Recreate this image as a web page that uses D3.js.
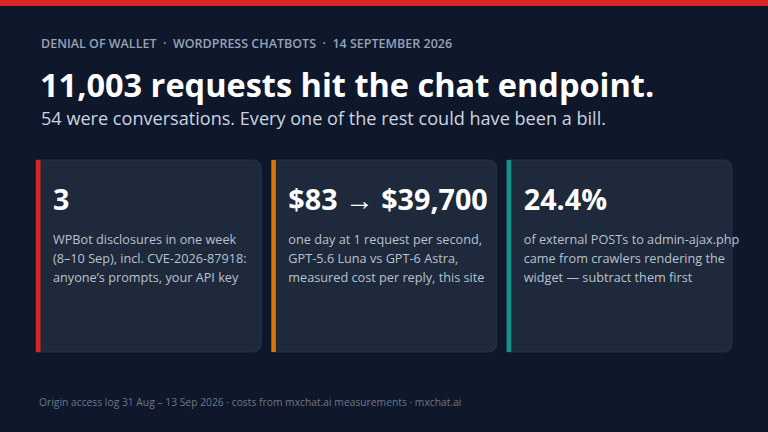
<!DOCTYPE html>
<html>
<head>
<meta charset="utf-8">
<script src="https://cdn.jsdelivr.net/npm/d3@7"></script>
<style>
  html, body { margin: 0; padding: 0; background: #0f172a; }
  svg { display: block; font-family: "Open Sans", "Noto Sans", sans-serif; }
</style>
</head>
<body>
<div id="chart"></div>
<script>
const kicker = 'DENIAL OF WALLET  ·  WORDPRESS CHATBOTS  ·  14 SEPTEMBER 2026';
const title = '11,003 requests hit the chat endpoint.';
const subtitle = '54 were conversations. Every one of the rest could have been a bill.';
const footer = 'Origin access log 31 Aug – 13 Sep 2026 · costs from mxchat.ai measurements · mxchat.ai';

const cardKeys = ['disclosures', 'cost', 'crawlers'];
const cardValues = ['3', '$83 → $39,700', '24.4%'];
const cardLines = [
  ['WPBot disclosures in one week', '(8–10 Sep), incl. CVE-2026-87918:', 'anyone’s prompts, your API key'],
  ['one day at 1 request per second,', 'GPT-5.6 Luna vs GPT-6 Astra,', 'measured cost per reply, this site'],
  ['of external POSTs to admin-ajax.php', 'came from crawlers rendering the', 'widget — subtract them first']
];
const accentColors = ['#dc2626', '#d97706', '#0d9488'];

const W = 768, H = 432;
const svg = d3.select('#chart').append('svg')
  .attr('width', W)
  .attr('height', H);

svg.append('rect').attr('width', W).attr('height', H).attr('fill', '#0f172a');
svg.append('rect').attr('width', W).attr('height', 6).attr('fill', '#dc2626');

// header text
svg.append('text')
  .attr('x', 41).attr('y', 48)
  .attr('fill', '#94a3b8')
  .attr('font-size', 12.5)
  .attr('font-weight', 600)
  .style('white-space', 'pre')
  .text(kicker);

svg.append('text')
  .attr('x', 40).attr('y', 97)
  .attr('fill', '#ffffff')
  .attr('font-size', 32.5)
  .attr('font-weight', 700)
  .text(title);

svg.append('text')
  .attr('x', 41).attr('y', 124.5)
  .attr('fill', '#cbd5e1')
  .attr('font-size', 18.1)
  .text(subtitle);

// cards
const x = d3.scaleBand()
  .domain(cardKeys)
  .range([36, 732])
  .paddingInner(0.043);

const color = d3.scaleOrdinal().domain(cardKeys).range(accentColors);

const cardTop = 160, cardH = 192, r = 9;

const cards = svg.selectAll('.card')
  .data(cardKeys)
  .enter()
  .append('g')
  .attr('class', 'card')
  .attr('transform', d => `translate(${x(d)},${cardTop})`);

cards.append('path')
  .attr('d', () => {
    const w = x.bandwidth();
    return `M0,0 H${w - r} Q${w},0 ${w},${r} V${cardH - r} Q${w},${cardH} ${w - r},${cardH} H0 Z`;
  })
  .attr('fill', '#1e293b')
  .attr('stroke', '#273449')
  .attr('stroke-width', 1);

cards.append('rect')
  .attr('width', 4.5)
  .attr('height', cardH)
  .attr('fill', d => color(d));

cards.append('text')
  .attr('x', 17).attr('y', 50)
  .attr('fill', '#ffffff')
  .attr('font-size', 28.7)
  .attr('font-weight', 700)
  .text((d, i) => cardValues[i]);

cards.each(function(d, i) {
  d3.select(this).selectAll('.line')
    .data(cardLines[i])
    .enter()
    .append('text')
    .attr('class', 'line')
    .attr('x', 17)
    .attr('y', (t, j) => 84 + j * 19)
    .attr('fill', '#b8c2d0')
    .attr('font-size', 12.7)
    .text(t => t);
});

svg.append('text')
  .attr('x', 39).attr('y', 406)
  .attr('fill', '#6b7789')
  .attr('font-size', 10.3)
  .text(footer);
</script>
</body>
</html>
